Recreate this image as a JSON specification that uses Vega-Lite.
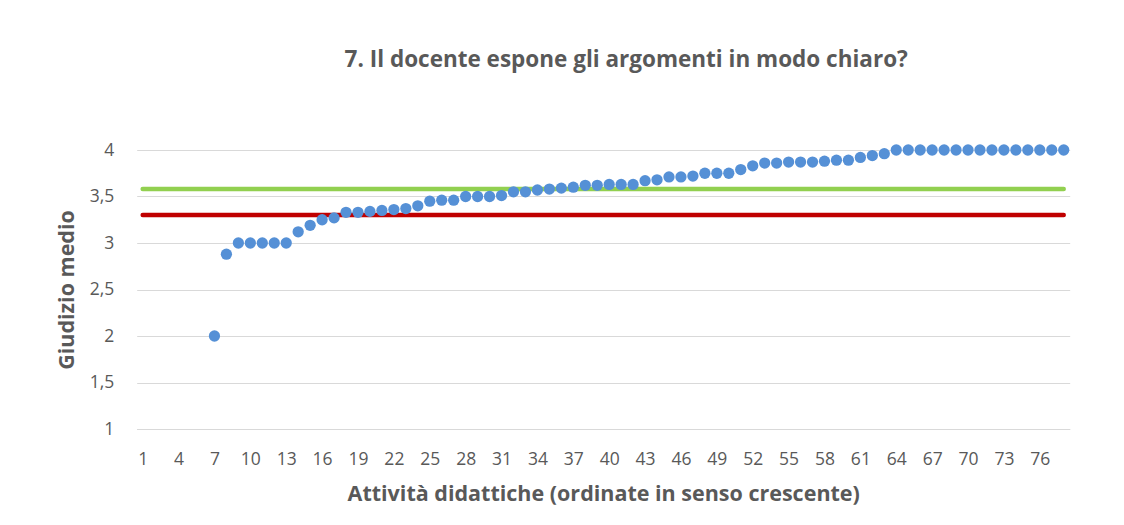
{
  "$schema": "https://vega.github.io/schema/vega-lite/v6.json",
  "width": 933,
  "height": 279,
  "autosize": {"type": "none"},
  "padding": {"left": 136.7, "top": 150, "right": 54.3, "bottom": 96},
  "background": "white",
  "config": {
    "font": "Open Sans",
    "view": {"stroke": null}
  },
  "title": {
    "text": "7. Il docente espone gli argomenti in modo chiaro?",
    "fontSize": 22.5,
    "fontWeight": "bold",
    "color": "#595959",
    "anchor": "middle",
    "dx": 23,
    "offset": 70,
    "font": "Open Sans"
  },
  "datasets": {
    "scores": [
      {"attivita": 7, "giudizio": 2.0},
      {"attivita": 8, "giudizio": 2.88},
      {"attivita": 9, "giudizio": 3.0},
      {"attivita": 10, "giudizio": 3.0},
      {"attivita": 11, "giudizio": 3.0},
      {"attivita": 12, "giudizio": 3.0},
      {"attivita": 13, "giudizio": 3.0},
      {"attivita": 14, "giudizio": 3.12},
      {"attivita": 15, "giudizio": 3.19},
      {"attivita": 16, "giudizio": 3.25},
      {"attivita": 17, "giudizio": 3.27},
      {"attivita": 18, "giudizio": 3.33},
      {"attivita": 19, "giudizio": 3.33},
      {"attivita": 20, "giudizio": 3.34},
      {"attivita": 21, "giudizio": 3.35},
      {"attivita": 22, "giudizio": 3.36},
      {"attivita": 23, "giudizio": 3.37},
      {"attivita": 24, "giudizio": 3.4},
      {"attivita": 25, "giudizio": 3.45},
      {"attivita": 26, "giudizio": 3.46},
      {"attivita": 27, "giudizio": 3.46},
      {"attivita": 28, "giudizio": 3.5},
      {"attivita": 29, "giudizio": 3.5},
      {"attivita": 30, "giudizio": 3.5},
      {"attivita": 31, "giudizio": 3.51},
      {"attivita": 32, "giudizio": 3.55},
      {"attivita": 33, "giudizio": 3.55},
      {"attivita": 34, "giudizio": 3.57},
      {"attivita": 35, "giudizio": 3.58},
      {"attivita": 36, "giudizio": 3.59},
      {"attivita": 37, "giudizio": 3.6},
      {"attivita": 38, "giudizio": 3.62},
      {"attivita": 39, "giudizio": 3.62},
      {"attivita": 40, "giudizio": 3.63},
      {"attivita": 41, "giudizio": 3.63},
      {"attivita": 42, "giudizio": 3.63},
      {"attivita": 43, "giudizio": 3.67},
      {"attivita": 44, "giudizio": 3.68},
      {"attivita": 45, "giudizio": 3.71},
      {"attivita": 46, "giudizio": 3.71},
      {"attivita": 47, "giudizio": 3.72},
      {"attivita": 48, "giudizio": 3.75},
      {"attivita": 49, "giudizio": 3.75},
      {"attivita": 50, "giudizio": 3.75},
      {"attivita": 51, "giudizio": 3.79},
      {"attivita": 52, "giudizio": 3.83},
      {"attivita": 53, "giudizio": 3.86},
      {"attivita": 54, "giudizio": 3.86},
      {"attivita": 55, "giudizio": 3.87},
      {"attivita": 56, "giudizio": 3.87},
      {"attivita": 57, "giudizio": 3.87},
      {"attivita": 58, "giudizio": 3.88},
      {"attivita": 59, "giudizio": 3.89},
      {"attivita": 60, "giudizio": 3.89},
      {"attivita": 61, "giudizio": 3.92},
      {"attivita": 62, "giudizio": 3.94},
      {"attivita": 63, "giudizio": 3.96},
      {"attivita": 64, "giudizio": 4.0},
      {"attivita": 65, "giudizio": 4.0},
      {"attivita": 66, "giudizio": 4.0},
      {"attivita": 67, "giudizio": 4.0},
      {"attivita": 68, "giudizio": 4.0},
      {"attivita": 69, "giudizio": 4.0},
      {"attivita": 70, "giudizio": 4.0},
      {"attivita": 71, "giudizio": 4.0},
      {"attivita": 72, "giudizio": 4.0},
      {"attivita": 73, "giudizio": 4.0},
      {"attivita": 74, "giudizio": 4.0},
      {"attivita": 75, "giudizio": 4.0},
      {"attivita": 76, "giudizio": 4.0},
      {"attivita": 77, "giudizio": 4.0},
      {"attivita": 78, "giudizio": 4.0}
    ],
    "refs": [
      {"attivita": 1, "giudizio": 3.58, "serie": "media"},
      {"attivita": 78, "giudizio": 3.58, "serie": "media"},
      {"attivita": 1, "giudizio": 3.3, "serie": "soglia"},
      {"attivita": 78, "giudizio": 3.3, "serie": "soglia"}
    ]
  },
  "encoding": {
    "x": {
      "field": "attivita",
      "type": "ordinal",
      "scale": {
        "type": "point",
        "padding": 0.5,
        "domain": [1,2,3,4,5,6,7,8,9,10,11,12,13,14,15,16,17,18,19,20,21,22,23,24,25,26,27,28,29,30,31,32,33,34,35,36,37,38,39,40,41,42,43,44,45,46,47,48,49,50,51,52,53,54,55,56,57,58,59,60,61,62,63,64,65,66,67,68,69,70,71,72,73,74,75,76,77,78]
      },
      "axis": {
        "title": "Attività didattiche (ordinate in senso crescente)",
        "values": [1,4,7,10,13,16,19,22,25,28,31,34,37,40,43,46,49,52,55,58,61,64,67,70,73,76],
        "labelAngle": 0,
        "ticks": false,
        "grid": false,
        "domainColor": "#d9d9d9",
        "domainWidth": 1,
        "labelFontSize": 17.5,
        "labelColor": "#595959",
        "labelPadding": 21,
        "titleFontSize": 21.5,
        "titleColor": "#595959",
        "titleFontWeight": "bold",
        "titlePadding": 16
      }
    },
    "y": {
      "field": "giudizio",
      "type": "quantitative",
      "scale": {"domain": [1, 4], "nice": false, "zero": false},
      "axis": {
        "title": "Giudizio medio",
        "values": [1, 1.5, 2, 2.5, 3, 3.5, 4],
        "labelExpr": "replace(toString(datum.value), '.', ',')",
        "domain": false,
        "ticks": false,
        "gridColor": "#d9d9d9",
        "gridWidth": 1,
        "labelFontSize": 17.5,
        "labelColor": "#595959",
        "labelPadding": 23,
        "titleFontSize": 21.5,
        "titleColor": "#595959",
        "titleFontWeight": "bold",
        "titlePadding": 11
      }
    }
  },
  "layer": [
    {
      "data": {"name": "refs"},
      "mark": {"type": "line", "strokeWidth": 4.5, "strokeCap": "round"},
      "encoding": {
        "color": {
          "field": "serie",
          "type": "nominal",
          "scale": {"domain": ["media", "soglia"], "range": ["#92d050", "#c00000"]},
          "legend": null
        }
      }
    },
    {
      "data": {"name": "scores"},
      "mark": {"type": "circle", "size": 127, "opacity": 1, "color": "#5590d6"}
    }
  ]
}
